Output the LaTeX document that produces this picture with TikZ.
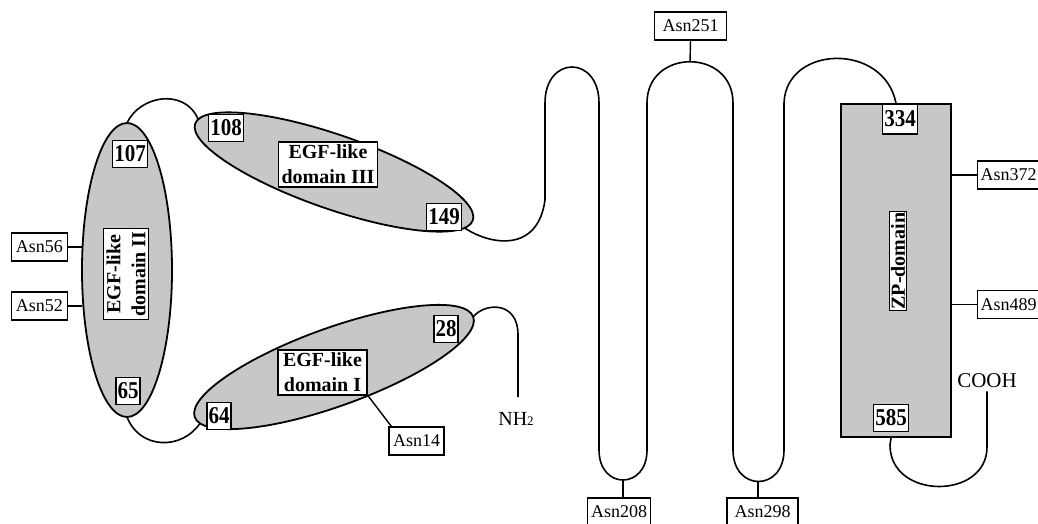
\documentclass[tikz,border=0pt]{standalone}
\usepackage{fontspec}
\usepackage{graphicx}
\setmainfont{Liberation Serif}
\usetikzlibrary{shapes.geometric,calc}
\begin{document}
\begin{tikzpicture}[x=1pt,y=-1pt,
  domshape/.style={ellipse, draw, line width=1.8pt, fill=black!22, inner sep=0pt, outer sep=0pt},
  numbox/.style={draw, fill=white, line width=1.3pt, inner sep=1.5pt, minimum height=27pt, font=\fontsize{21}{21}\selectfont\bfseries},
  labbox/.style={draw, fill=white, line width=1.3pt, inner sep=3pt, align=center, font=\fontsize{20}{25}\selectfont\bfseries},
  sitebox/.style={draw, fill=white, line width=1.2pt, inner sep=2pt, minimum height=28pt, font=\fontsize{18}{18}\selectfont},
  backbone/.style={line width=1.6pt, line join=round},
  sitelink/.style={line width=1.4pt}]
\clip (0,0) rectangle (1038,524);
\fill[white] (0,0) rectangle (1038,524);

% domains
\node[domshape, minimum width=90pt, minimum height=294pt] (d2) at (127,270) {};
\node[domshape, minimum width=294pt, minimum height=74pt, rotate=-19.2] (d3) at (334,172) {};
\node[domshape, minimum width=296pt, minimum height=78pt, rotate=19.8] (d1) at (334,367) {};
\node[draw, fill=black!22, line width=1.6pt, inner sep=0pt, minimum width=110pt, minimum height=333pt] (zp) at (896,270.5) {};

% helper coordinates on the backbone
\coordinate (t2) at (690,62);
\coordinate (b1) at (623,480);
\coordinate (b2) at (758,482);
\coordinate (nhend) at (518,397);

% backbone
\draw[backbone] (d2.north) .. controls (140,95) and (185,88) .. (d3.178);
\draw[backbone] (d2.south) .. controls (140,450) and (182,450) .. (d1.183);
\draw[backbone] (d3.-4) .. controls (492,246) and (538,252) .. (545,200) -- (545,103)
  .. controls (545,55) and (599,55) .. (599,103) -- (599,450)
  .. controls (599,490) and (647,490) .. (647,450) -- (647,103)
  .. controls (647,48) and (733,48) .. (733,103) -- (733,450)
  .. controls (733,492) and (784,492) .. (784,450) -- (784,103)
  .. controls (786,45) and (884,42) .. (zp.north);
\draw[backbone] (d1.east) .. controls (484,303) and (518,300) .. (518,335) -- (nhend);

% labels
\node[labbox] (l3) at (328,164.5) {EGF-like\\domain III};
\node[labbox, inner xsep=5pt] (l1) at (322.5,372.5) {EGF-like\\domain I};
\node[labbox, rotate=90] (l2) at (126,274) {EGF-like\\domain II};
\node[labbox, inner sep=1.5pt, rotate=90] (lzp) at (898,261) {ZP-domain};

% residue numbers
\node[numbox] (n107) at (130,154) {\scalebox{1}[1.15]{107}};
\node[numbox] (n65) at (128,391) {\scalebox{1}[1.15]{65}};
\node[numbox] (n108) at (226,128) {\scalebox{1}[1.15]{108}};
\node[numbox] (n149) at (444,217) {\scalebox{1}[1.15]{149}};
\node[numbox] (n64) at (219,416) {\scalebox{1}[1.15]{64}};
\node[numbox] (n28) at (446,329) {\scalebox{1}[1.15]{28}};
\node[numbox, minimum height=30pt] (n334) at (900,119) {\scalebox{1}[1.15]{334}};
\node[numbox] (n585) at (891,418) {\scalebox{1}[1.15]{585}};

% termini
\node[inner sep=0pt, font=\fontsize{20}{20}\selectfont] (nh) at (516,419) {NH{\fontsize{13}{13}\selectfont 2}};
\node[inner sep=3pt, font=\fontsize{21}{21}\selectfont] (cooh) at (987,381) {COOH};
\draw[backbone] (n585.south |- zp.south) -- (890,445)
  .. controls (890,500) and (987,500) .. (987,447) -- (cooh.south);

% glycosylation sites
\node[sitebox, minimum width=56pt] (a56) at (39.5,247) {Asn56};
\node[sitebox, minimum width=56pt] (a52) at (39.5,306) {Asn52};
\node[sitebox, minimum width=55pt] (a14) at (416.5,441) {Asn14};
\node[sitebox, minimum width=72pt] (a251) at (690.5,26) {Asn251};
\node[sitebox, minimum width=63pt] (a208) at (619,512) {Asn208};
\node[sitebox, minimum width=71pt] (a298) at (762.5,512) {Asn298};
\node[sitebox, minimum width=72pt, anchor=west] (a372) at (977,175) {\makebox[66pt][l]{Asn372}};
\node[sitebox, minimum width=72pt, anchor=west] (a489) at (977,304.5) {\makebox[66pt][l]{Asn489}};

\draw[sitelink] (a56.east) -- (a56.east -| d2.west);
\draw[sitelink] (a52.east) -- (a52.east -| d2.west);
\draw[sitelink] (d1.-60) -- ($(a14.north west)+(3,0)$);
\draw[sitelink] (a251.south) -- (t2);
\draw[sitelink] (b1) -- (b1 |- a208.north);
\draw[sitelink] (b2) -- (b2 |- a298.north);
\draw[sitelink] (zp.east |- a372) -- (a372.west);
\draw[sitelink] (zp.east |- a489) -- (a489.west);
\end{tikzpicture}
\end{document}
